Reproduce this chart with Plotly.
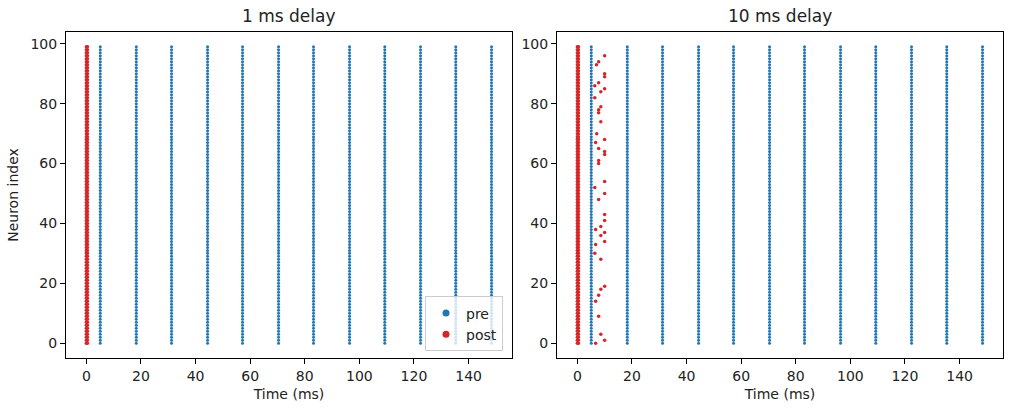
import plotly.graph_objects as go

# ---- data ----
neurons = list(range(100))
pre_times = [5.1, 18.3, 31.2, 44.4, 57.2, 70.4, 83.2, 96.4, 109.3, 122.4, 135.3, 148.4]
post_times_1ms = [0.0, 0.4]          # every neuron fires at start
post_times_10ms_start = [0.0, 0.4]
# late post spikes in 10 ms delay panel: (neuron, time)
late_neurons = [96, 94, 93, 90, 89, 87, 86, 85, 84, 82, 79, 78, 77, 74, 70, 68, 67, 65,
                64, 63, 61, 60, 54, 52, 50, 48, 43, 41, 39, 38, 37, 36, 34, 33, 30, 28,
                19, 18, 16, 14, 9, 3, 1, 0]
late_times = [10.0, 7.8, 7.0, 10.0, 10.0, 7.8, 6.4, 10.0, 8.6, 6.4, 8.6, 7.8, 7.8, 8.6, 7.1, 10.0, 6.7, 7.8,
              10.0, 10.0, 7.8, 7.8, 10.0, 6.4, 10.0, 7.8, 10.0, 10.0, 8.6, 6.7, 10.0, 8.6, 10.0, 6.7, 6.4, 8.6,
              10.0, 8.6, 7.8, 6.7, 7.8, 8.6, 10.0, 6.7]
titles = ["1 ms delay", "10 ms delay"]
xticks = [0, 20, 40, 60, 80, 100, 120, 140]
yticks = [0, 20, 40, 60, 80, 100]

BLUE = "#1f77b4"
RED = "#d62728"
FONT = "DejaVu Sans"

W, H = 1011, 411
ml, mr, mt, mb = 66, 8, 32, 53
pw = W - ml - mr
dom1 = [0, (512 - ml) / pw]
dom2 = [(557 - ml) / pw, 1]

fig = go.Figure()

def raster(times, ns):
    xs, ys = [], []
    for t in times:
        for n in ns:
            xs.append(t)
            ys.append(n)
    return xs, ys

for i, (xa, ya) in enumerate([("x", "y"), ("x2", "y2")]):
    px, py = raster(pre_times, neurons)
    fig.add_trace(go.Scatter(x=px, y=py, mode="markers", xaxis=xa, yaxis=ya,
                             marker=dict(color=BLUE, size=3, line=dict(width=0)),
                             showlegend=False, hoverinfo="skip"))
    start = post_times_1ms if i == 0 else post_times_10ms_start
    qx, qy = raster(start, neurons)
    if i == 1:
        qx = qx + late_times
        qy = qy + late_neurons
    fig.add_trace(go.Scatter(x=qx, y=qy, mode="markers", xaxis=xa, yaxis=ya,
                             marker=dict(color=RED, size=3.5, line=dict(width=0)),
                             showlegend=False, hoverinfo="skip"))

# legend entries
fig.add_trace(go.Scatter(x=[None], y=[None], mode="markers", name="pre",
                         marker=dict(color=BLUE, size=7)))
fig.add_trace(go.Scatter(x=[None], y=[None], mode="markers", name="post",
                         marker=dict(color=RED, size=7)))

axis_common = dict(showgrid=False, zeroline=False, showline=True, linecolor="black",
                   linewidth=1, mirror=True, ticks="outside", ticklen=5, tickwidth=1,
                   tickcolor="black", tickfont=dict(family=FONT, size=14, color="#222222"))

xr = [-7.45, 155.9]
yr = [-4.95, 103.95]
fig.update_layout(
    width=W, height=H,
    margin=dict(l=ml, r=mr, t=mt, b=mb),
    paper_bgcolor="white", plot_bgcolor="white",
    font=dict(family=FONT, size=14, color="#222222"),
    xaxis=dict(domain=dom1, range=xr, tickvals=xticks, anchor="y",
               title=dict(text="Time (ms)", font=dict(family=FONT, size=14), standoff=6), **axis_common),
    yaxis=dict(domain=[0, 1], range=yr, tickvals=yticks, anchor="x",
               title=dict(text="Neuron index", font=dict(family=FONT, size=14), standoff=8), **axis_common),
    xaxis2=dict(domain=dom2, range=xr, tickvals=xticks, anchor="y2",
                title=dict(text="Time (ms)", font=dict(family=FONT, size=14), standoff=6), **axis_common),
    yaxis2=dict(domain=[0, 1], range=yr, tickvals=yticks, anchor="x2", **axis_common),
    legend=dict(x=(503 - ml) / pw, xanchor="right", y=0.02, yanchor="bottom",
                bgcolor="rgba(255,255,255,0.8)", bordercolor="#cccccc", borderwidth=1,
                font=dict(family=FONT, size=14, color="#222222"), itemwidth=30,
                tracegroupgap=0),
    annotations=[
        dict(text=titles[0], x=(dom1[0] + dom1[1]) / 2, xref="paper", xanchor="center",
             y=1, yref="paper", yanchor="bottom", yshift=4, showarrow=False,
             font=dict(family=FONT, size=17)),
        dict(text=titles[1], x=(dom2[0] + dom2[1]) / 2, xref="paper", xanchor="center",
             y=1, yref="paper", yanchor="bottom", yshift=4, showarrow=False,
             font=dict(family=FONT, size=17)),
    ],
)

fig.write_html("out.html")
